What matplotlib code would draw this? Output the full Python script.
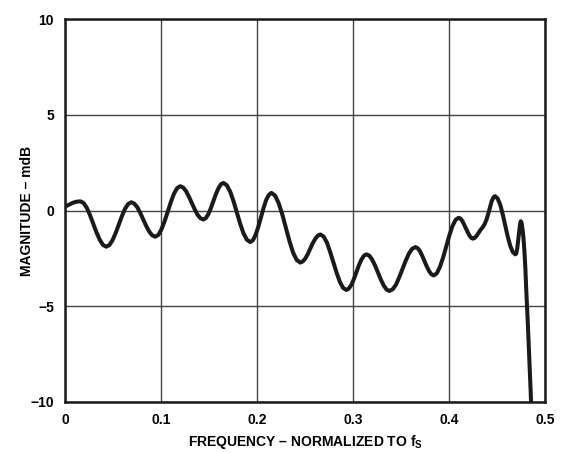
import numpy as np
import matplotlib.pyplot as plt

plt.rcParams['font.family'] = ['Liberation Sans', 'DejaVu Sans']
plt.rcParams['font.weight'] = 'bold'
plt.rcParams['mathtext.fontset'] = 'custom'
plt.rcParams['mathtext.rm'] = 'Liberation Sans:bold'

# frequency (normalized to fs)
freq = [0.000, 0.004, 0.008, 0.012, 0.016,
        0.0194, 0.0228, 0.0261, 0.0295, 0.0329, 0.0363, 0.0396, 0.043,
        0.0463, 0.0495, 0.0528, 0.056, 0.0593, 0.0625, 0.0658, 0.069,
        0.0721, 0.0753, 0.0784, 0.0815, 0.0846, 0.0878, 0.0909, 0.094,
        0.0973, 0.1005, 0.1038, 0.107, 0.1103, 0.1135, 0.1168, 0.120,
        0.123, 0.126, 0.129, 0.132, 0.135, 0.138, 0.141, 0.144,
        0.1466, 0.1493, 0.1519, 0.1545, 0.1571, 0.1598, 0.1624, 0.165,
        0.1685, 0.172, 0.1755, 0.179, 0.1825, 0.186, 0.1895, 0.193,
        0.1958, 0.1985, 0.2013, 0.204, 0.2068, 0.2095, 0.2123, 0.215,
        0.2188, 0.2225, 0.2263, 0.230, 0.2338, 0.2375, 0.2413, 0.245,
        0.2476, 0.2503, 0.2529, 0.2555, 0.2581, 0.2608, 0.2634, 0.266,
        0.2694, 0.2728, 0.2761, 0.2795, 0.2829, 0.2863, 0.2896, 0.293,
        0.2956, 0.2983, 0.3009, 0.3035, 0.3061, 0.3088, 0.3114, 0.314,
        0.317, 0.320, 0.323, 0.326, 0.329, 0.332, 0.335, 0.338,
        0.3414, 0.3448, 0.3481, 0.3515, 0.3549, 0.3583, 0.3616, 0.365,
        0.3674, 0.3698, 0.3721, 0.3745, 0.3769, 0.3793, 0.3816, 0.384,
        0.3873, 0.3905, 0.3938, 0.397, 0.4003, 0.4035, 0.4068, 0.410,
        0.4119, 0.4138, 0.4156, 0.4175, 0.4194, 0.4213, 0.4231, 0.425,
        0.427, 0.429, 0.431, 0.433, 0.435, 0.437, 0.439, 0.441, 0.443,
        0.4445, 0.4465, 0.448,
        0.4506, 0.4533, 0.4559, 0.4585, 0.4611, 0.4638, 0.4664, 0.469,
        0.470, 0.471, 0.472, 0.473, 0.474, 0.4747,
        0.4755, 0.4765, 0.4775, 0.4785, 0.4795, 0.4805, 0.482, 0.4835,
        0.485, 0.4858]

# magnitude in mdB
mag = [0.20, 0.30, 0.40, 0.46, 0.48,
       0.39, 0.13, -0.25, -0.70, -1.16, -1.54, -1.80, -1.89,
       -1.80, -1.55, -1.17, -0.73, -0.29, 0.09, 0.34, 0.43,
       0.36, 0.17, -0.13, -0.47, -0.81, -1.11, -1.30, -1.37,
       -1.27, -0.98, -0.55, -0.05, 0.45, 0.88, 1.17, 1.27,
       1.20, 1.02, 0.73, 0.40, 0.07, -0.22, -0.40, -0.47,
       -0.40, -0.19, 0.12, 0.49, 0.85, 1.16, 1.37, 1.44,
       1.32, 0.99, 0.49, -0.11, -0.70, -1.20, -1.53, -1.65,
       -1.55, -1.27, -0.86, -0.37, 0.13, 0.55, 0.82, 0.92,
       0.78, 0.39, -0.20, -0.90, -1.60, -2.19, -2.58, -2.72,
       -2.66, -2.51, -2.27, -1.99, -1.70, -1.47, -1.31, -1.25,
       -1.36, -1.67, -2.15, -2.70, -3.25, -3.73, -4.04, -4.15,
       -4.08, -3.88, -3.58, -3.22, -2.86, -2.56, -2.36, -2.29,
       -2.36, -2.57, -2.88, -3.25, -3.61, -3.92, -4.13, -4.20,
       -4.11, -3.87, -3.49, -3.06, -2.62, -2.24, -2.00, -1.91,
       -1.97, -2.13, -2.37, -2.65, -2.93, -3.17, -3.33, -3.39,
       -3.28, -2.95, -2.46, -1.89, -1.31, -0.82, -0.49, -0.38,
       -0.42, -0.54, -0.72, -0.93, -1.13, -1.31, -1.43, -1.47,
       -1.42, -1.30, -1.15, -1.00, -0.88, -0.72, -0.48, -0.15, 0.22,
       0.50, 0.70, 0.75,
       0.63, 0.31, -0.19, -0.77, -1.35, -1.85, -2.17, -2.29,
       -2.25, -2.00, -1.55, -1.05, -0.70, -0.56,
       -0.62, -0.95, -1.40, -2.10, -3.00, -4.20, -5.80, -7.60,
       -9.40, -10.5]

x_ticks = [0, 0.1, 0.2, 0.3, 0.4, 0.5]
x_tick_labels = ['0', '0.1', '0.2', '0.3', '0.4', '0.5']
y_ticks = [-10, -5, 0, 5, 10]
y_tick_labels = ['\u221210', '\u22125', '0', '5', '10']

fig = plt.figure(figsize=(5.62, 4.53), dpi=100)
ax = fig.add_axes([0.1157, 0.1126, 0.8541, 0.8454])

ax.plot(freq, mag, color='#1a1a1a', linewidth=2.9, solid_joinstyle='round',
        solid_capstyle='butt', zorder=3)

ax.set_xlim(0, 0.5)
ax.set_ylim(-10, 10)
ax.set_xticks(x_ticks)
ax.set_xticklabels(x_tick_labels)
ax.set_yticks(y_ticks)
ax.set_yticklabels(y_tick_labels)
ax.tick_params(length=0, labelsize=10, pad=8)
ax.grid(True, color='#444444', linewidth=1.0)
ax.set_axisbelow(True)
for s in ax.spines.values():
    s.set_linewidth(1.8)
    s.set_color('#1a1a1a')

ax.set_xlabel(r'FREQUENCY – NORMALIZED TO $\mathrm{f}_\mathrm{S}$', fontsize=10,
              fontweight='bold', labelpad=4)
ax.set_ylabel('MAGNITUDE – mdB', fontsize=10, fontweight='bold', labelpad=-3)

plt.savefig('out.png', dpi=100)
